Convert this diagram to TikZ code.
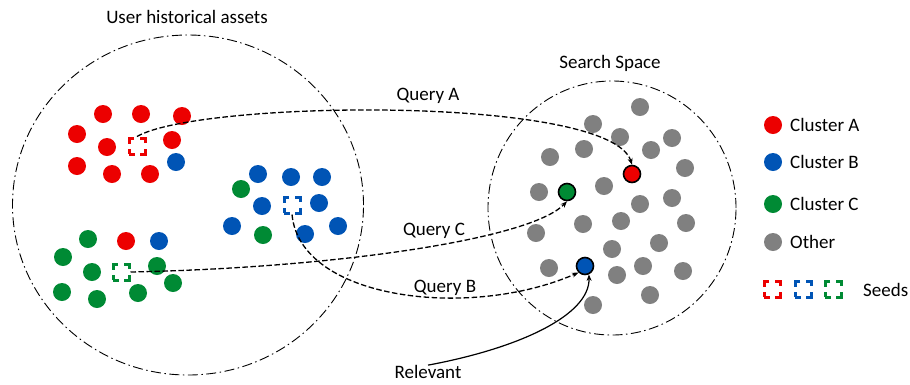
\documentclass[tikz,border=0pt]{standalone}
\usepackage{fontspec}
\setmainfont{Carlito}
\usetikzlibrary{arrows.meta,shapes.geometric}
\definecolor{cred}{RGB}{236,0,0}
\definecolor{cblue}{RGB}{0,84,181}
\definecolor{cgreen}{RGB}{0,138,52}
\definecolor{cgray}{RGB}{128,128,128}
\begin{document}
\begin{tikzpicture}[x=1pt,y=-1pt,
  dot/.style={circle,minimum size=18pt,inner sep=0pt},
  rdot/.style={dot,fill=cred},
  bdot/.style={dot,fill=cblue},
  gdot/.style={dot,fill=cgreen},
  odot/.style={dot,fill=cgray},
  tdot/.style={circle,minimum size=17pt,inner sep=0pt,draw=black,line width=1.6pt},
  seedbox/.style={rectangle,draw,minimum size=16pt,inner sep=0pt,line width=3pt,
    dash pattern=on 10.5pt off 5.5pt,dash phase=5pt},
  region/.style={ellipse,draw,line width=0.9pt,inner sep=0pt,
    dash pattern=on 10pt off 3.5pt on 1.5pt off 3.5pt},
  lbl/.style={font=\fontsize{19}{22}\selectfont,inner sep=0pt},
  qarrow/.style={line width=1.3pt,dash pattern=on 5.5pt off 2.5pt,-{Stealth[length=6.5pt,width=5pt]}},
  rarrow/.style={line width=1.2pt,-{Stealth[length=6.5pt,width=5pt]}}]
\useasboundingbox (0,0) rectangle (910,384);

% regions
\node[region,minimum width=351pt,minimum height=340pt] (U) at (188,205) {};
\node[region,minimum width=248pt,minimum height=254pt] (S) at (612,208) {};
\node[lbl] (Ut) at (187,17) {User historical assets};
\node[lbl] (St) at (610,63) {Search Space};

% cluster A
\foreach \x/\y [count=\i] in {103/114,141/114,182/116,77/134,107/147,172/140,77/166,112/174,150/174,126/241}
  \node[rdot] (r\i) at (\x,\y) {};
% cluster B
\foreach \x/\y [count=\i] in {258/174,291/177,322/177,262/206,319/203,232/226,305/234,338/226,176/162,159/241}
  \node[bdot] (b\i) at (\x,\y) {};
% cluster C
\foreach \x/\y [count=\i] in {88/239,63/257,92/272,62/292,97/299,138/293,157/266,173/283,241/189,263/235}
  \node[gdot] (g\i) at (\x,\y) {};
% seeds
\node[seedbox,draw=cred] (sA) at (137,146) {};
\node[seedbox,draw=cblue] (sB) at (292,205) {};
\node[seedbox,draw=cgreen] (sC) at (121,272) {};

% search space
\foreach \x/\y [count=\i] in {640/107,593/124,620/137,672/138,550/157,584/149,651/150,685/168,539/192,604/186,640/204,672/198,536/233,583/224,621/221,686/223,612/249,659/243,549/268,617/275,643/266,683/271,593/305,650/295}
  \node[odot] (o\i) at (\x,\y) {};
\node[tdot,fill=cred] (tA) at (632,174) {};
\node[tdot,fill=cgreen] (tC) at (567,192) {};
\node[tdot,fill=cblue] (tB) at (585,266) {};

% queries
\draw[qarrow] (sA.north) .. controls (200,100) and (610,95) .. (tA.north);
\draw[qarrow] (sC.east) .. controls (330,268) and (530,240) .. (tC.south);
\draw[qarrow] (sB.south) .. controls (300,300) and (470,320) .. (tB.south west);
\node[lbl] (qA) at (428,96) {Query A};
\node[lbl] (qC) at (434,231) {Query C};
\node[lbl] (qB) at (445,288) {Query B};
\node[lbl] (rel) at (428,372) {Relevant};
\draw[rarrow] (rel.north) .. controls (520,348) and (590,315) .. (tB.-65);

% legend
\node[rdot] (lA) at (773,125) {};
\node[bdot] (lB) at (773,162) {};
\node[gdot] (lC) at (773,204) {};
\node[odot] (lO) at (773,242) {};
\node[lbl,anchor=west] (lAt) at (790,125) {Cluster A};
\node[lbl,anchor=west] (lBt) at (790,162) {Cluster B};
\node[lbl,anchor=west] (lCt) at (790,204) {Cluster C};
\node[lbl,anchor=west] (lOt) at (790,242) {Other};
\node[seedbox,draw=cred] (lsA) at (772,289) {};
\node[seedbox,draw=cblue] (lsB) at (803,289) {};
\node[seedbox,draw=cgreen] (lsC) at (833,289) {};
\node[lbl,anchor=west] (lSt) at (863,290) {Seeds};
\end{tikzpicture}
\end{document}
